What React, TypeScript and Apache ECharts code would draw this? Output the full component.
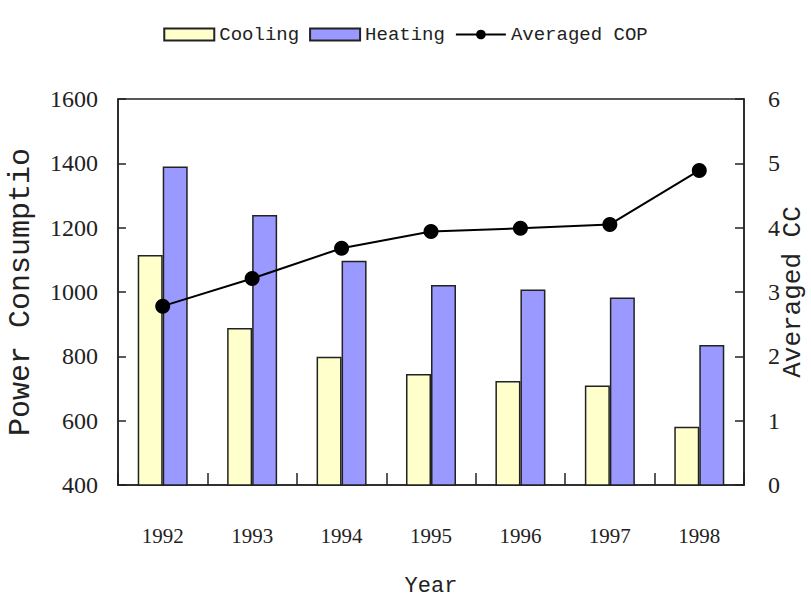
import React, { useEffect, useRef } from "react";
import * as echarts from "echarts";

const years = ["1992", "1993", "1994", "1995", "1996", "1997", "1998"];
const cooling = [1115, 888, 799, 745, 723, 709, 581];
const heating = [1390, 1239, 1097, 1022, 1008, 983, 835];
const cop = [2.78, 3.21, 3.68, 3.94, 3.99, 4.05, 4.89];

export default function App() {
  const ref = useRef<HTMLDivElement>(null);
  useEffect(() => {
    document.body.style.margin = "0";
    const chart = echarts.init(ref.current!, undefined, { renderer: "svg" });
    const axisLine = { show: true, lineStyle: { color: "#222", width: 1.5 } };
    chart.setOption({
      animation: false,
      backgroundColor: "#fff",
      legend: {
        top: 20,
        left: "center",
        itemWidth: 50,
        itemHeight: 12,
        itemGap: 10,
        textStyle: { fontFamily: "Liberation Mono", fontSize: 19, color: "#222" },
        data: [
          { name: "Cooling", icon: "rect" },
          { name: "Heating", icon: "rect" },
          { name: "Averaged COP" },
        ],
      },
      grid: {
        left: 118,
        right: 67,
        top: 99,
        bottom: 112,
        outerBoundsMode: "none",
        containLabel: false,
        show: true,
        borderColor: "#222",
        borderWidth: 1.5,
        backgroundColor: "transparent",
      },
      xAxis: {
        type: "category",
        data: years,
        boundaryGap: true,
        name: "Year",
        nameLocation: "middle",
        nameGap: 90,
        nameMoveOverlap: false,
        nameTextStyle: { fontFamily: "Liberation Mono", fontSize: 22, color: "#222" },
        axisLine,
        axisTick: { show: true, inside: true, length: 12, lineStyle: { color: "#222", width: 1.5 } },
        axisLabel: { margin: 40, fontFamily: "Liberation Serif", fontSize: 21, color: "#222" },
        splitLine: { show: false },
      },
      yAxis: [
        {
          type: "value",
          min: 400,
          max: 1600,
          interval: 200,
          name: "Power Consumptio",
          nameLocation: "middle",
          nameGap: 82,
          nameMoveOverlap: false,
          nameRotate: 90,
          nameTextStyle: { fontFamily: "Liberation Mono", fontSize: 30, color: "#222" },
          axisLine,
          axisTick: { show: true, inside: true, length: 8, lineStyle: { color: "#222", width: 1.5 } },
          axisLabel: {
            margin: 20,
            fontFamily: "Liberation Serif",
            fontSize: 24,
            color: "#222",
            formatter: (v: number) => String(v),
          },
          splitLine: { show: false },
        },
        {
          type: "value",
          min: 0,
          max: 6,
          interval: 1,
          position: "right",
          name: "Averaged CC",
          nameLocation: "middle",
          nameGap: 36,
          nameMoveOverlap: false,
          nameRotate: 90,
          nameTextStyle: { fontFamily: "Liberation Mono", fontSize: 26, color: "#222" },
          axisLine,
          axisTick: { show: true, inside: true, length: 9, lineStyle: { color: "#222", width: 1.5 } },
          axisLabel: { margin: 24, fontFamily: "Liberation Serif", fontSize: 24, color: "#222" },
          splitLine: { show: false },
        },
      ],
      series: [
        {
          name: "Cooling",
          type: "bar",
          data: cooling,
          barWidth: 25,
          barGap: "0%",
          itemStyle: { color: "#FFFFCC", borderColor: "#222", borderWidth: 1.5 },
        },
        {
          name: "Heating",
          type: "bar",
          data: heating,
          barWidth: 25,
          barGap: "0%",
          itemStyle: { color: "#9999FF", borderColor: "#222", borderWidth: 1.5 },
        },
        {
          name: "Averaged COP",
          type: "line",
          yAxisIndex: 1,
          data: cop,
          symbol: "circle",
          symbolSize: 15,
          itemStyle: { color: "#000" },
          lineStyle: { color: "#000", width: 2 },
        },
      ],
    });
    return () => chart.dispose();
  }, []);
  return <div ref={ref} style={{ width: 811, height: 597 }} />;
}
